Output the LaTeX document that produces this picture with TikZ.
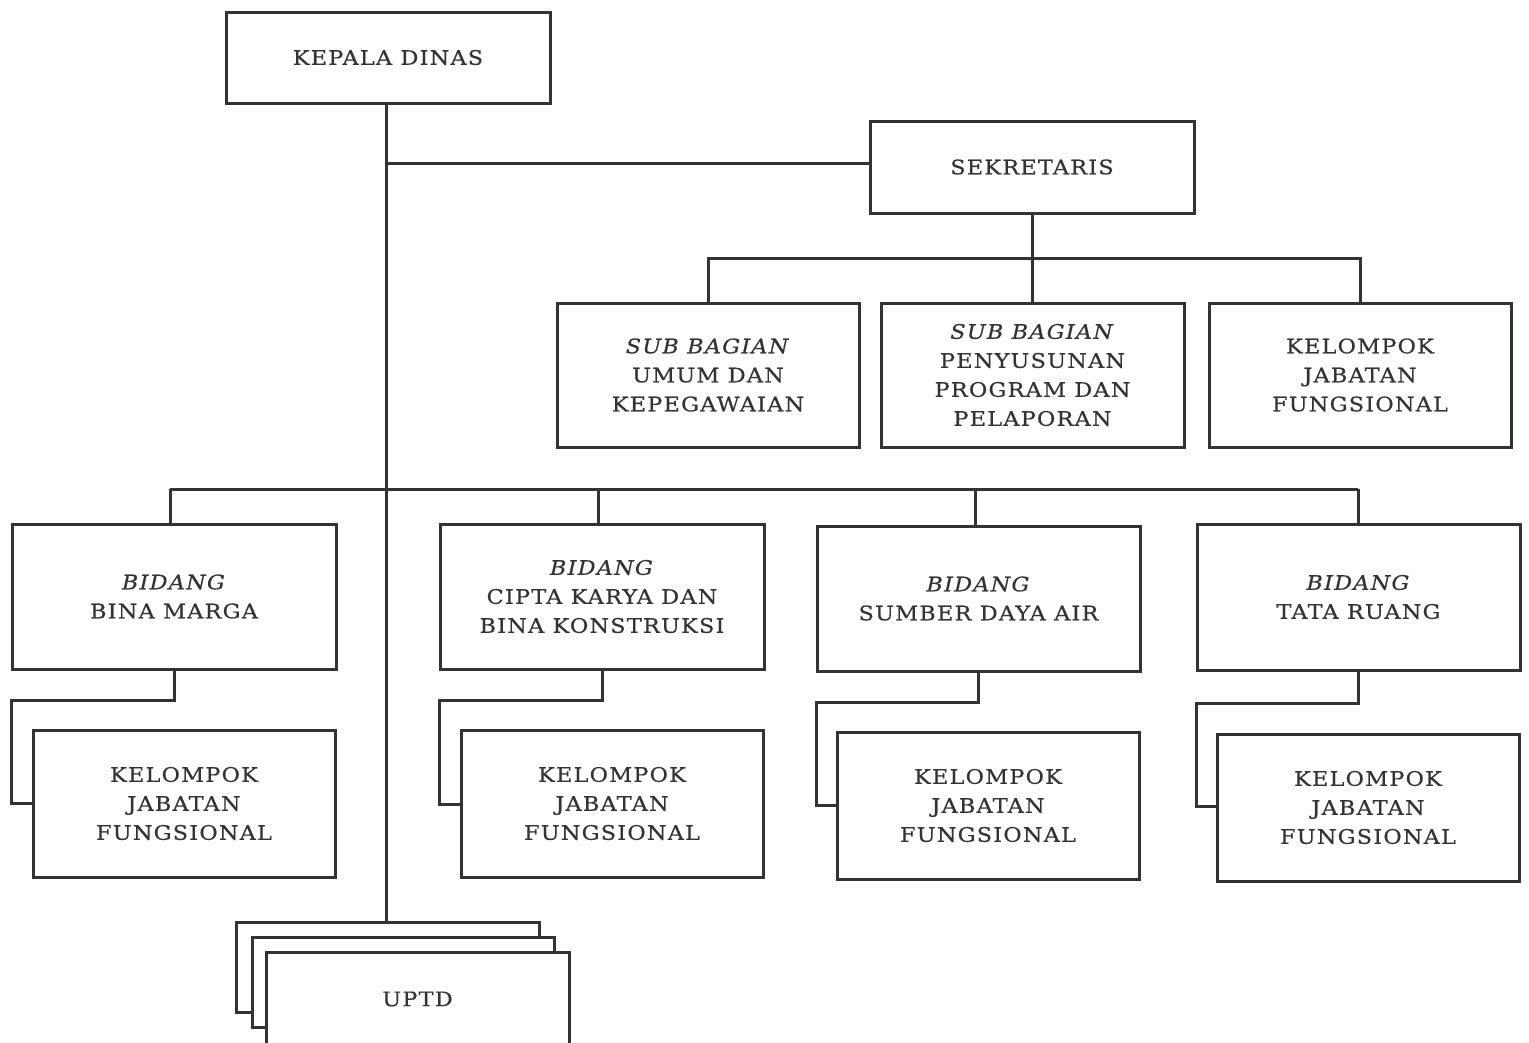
\documentclass[tikz,border=0pt]{standalone}
\usepackage{fontspec}
\setmainfont{DejaVu Serif}[FakeStretch=1.12, LetterSpace=6, FakeBold=0.5]
\begin{document}
\begin{tikzpicture}[x=1pt,y=-1pt,
  box/.style={draw=linec, line width=3pt, fill=white, align=center, inner sep=0pt,
    text=textc, font=\fontsize{20}{29}\selectfont},
  conn/.style={draw=linec, line width=3pt}]
\definecolor{linec}{HTML}{333333}
\definecolor{textc}{HTML}{333333}
\useasboundingbox (0,0) rectangle (1529,1042);
% boxes
\node[box, minimum width=324pt, minimum height=91pt] (kd) at (388,57.5) {KEPALA DINAS};
\node[box, minimum width=324pt, minimum height=92pt] (sek) at (1032,167) {SEKRETARIS};
\node[box, minimum width=302pt, minimum height=144pt] (sb1) at (708,375) {\textit{SUB BAGIAN}\\UMUM DAN\\KEPEGAWAIAN};
\node[box, minimum width=303pt, minimum height=144pt] (sb2) at (1032.5,375) {\textit{SUB BAGIAN}\\PENYUSUNAN\\PROGRAM DAN\\PELAPORAN};
\node[box, minimum width=302pt, minimum height=144pt] (sb3) at (1360,375) {KELOMPOK\\JABATAN\\FUNGSIONAL};
\node[box, minimum width=324pt, minimum height=145pt] (b1) at (174,596.5) {\textit{BIDANG}\\BINA MARGA};
\node[box, minimum width=324pt, minimum height=145pt] (b2) at (602,596.5) {\textit{BIDANG}\\CIPTA KARYA DAN\\BINA KONSTRUKSI};
\node[box, minimum width=323pt, minimum height=145pt] (b3) at (978.5,598.5) {\textit{BIDANG}\\SUMBER DAYA AIR};
\node[box, minimum width=323pt, minimum height=146pt] (b4) at (1358.5,597) {\textit{BIDANG}\\TATA RUANG};
\node[box, minimum width=302pt, minimum height=147pt] (k1) at (184,803.5) {KELOMPOK\\JABATAN\\FUNGSIONAL};
\node[box, minimum width=302pt, minimum height=147pt] (k2) at (612,803.5) {KELOMPOK\\JABATAN\\FUNGSIONAL};
\node[box, minimum width=302pt, minimum height=147pt] (k3) at (988,805.5) {KELOMPOK\\JABATAN\\FUNGSIONAL};
\node[box, minimum width=302pt, minimum height=147pt] (k4) at (1368,807.5) {KELOMPOK\\JABATAN\\FUNGSIONAL};
% UPTD stack
\node[box, minimum width=303pt, minimum height=90pt] (u1) at (387.5,967) {};
\node[box, minimum width=302pt, minimum height=90pt] (u2) at (403,982) {};
\node[box, minimum width=303pt, minimum height=94pt] (u3) at (417.5,999) {UPTD};
% coordinates
\coordinate (t1) at (386,163);
\coordinate (t2) at (386,489);
\coordinate (sbus) at (1032,258);
% connectors
\draw[conn] (kd.south -| t1) -- (u1.north -| t1);
\draw[conn] (t1) -- (sek.west |- t1);
\draw[conn] (sek.south) -- (sbus);
\draw[conn] (sb1.north) -- (sb1.north |- sbus) -- (sb3.north |- sbus) -- (sb3.north);
\draw[conn] (sbus) -- (sbus |- sb2.north);
\draw[conn] (170,489) -- (1358,489);
\draw[conn] (170,489) -- (170,524);
\draw[conn] (598,489) -- (598,524);
\draw[conn] (975,489) -- (975,526);
\draw[conn] (1358,489) -- (1358,524);
\draw[conn] (b1.south) -- (174,700) -- (11,700) -- (11,803) -- (k1.west |- 0,803);
\draw[conn] (b2.south) -- (602,700) -- (439,700) -- (439,804) -- (k2.west |- 0,804);
\draw[conn] (978,671) -- (978,702) -- (816,702) -- (816,805) -- (k3.west |- 0,805);
\draw[conn] (1358,670) -- (1358,703) -- (1196,703) -- (1196,806) -- (k4.west |- 0,806);
\end{tikzpicture}
\end{document}
